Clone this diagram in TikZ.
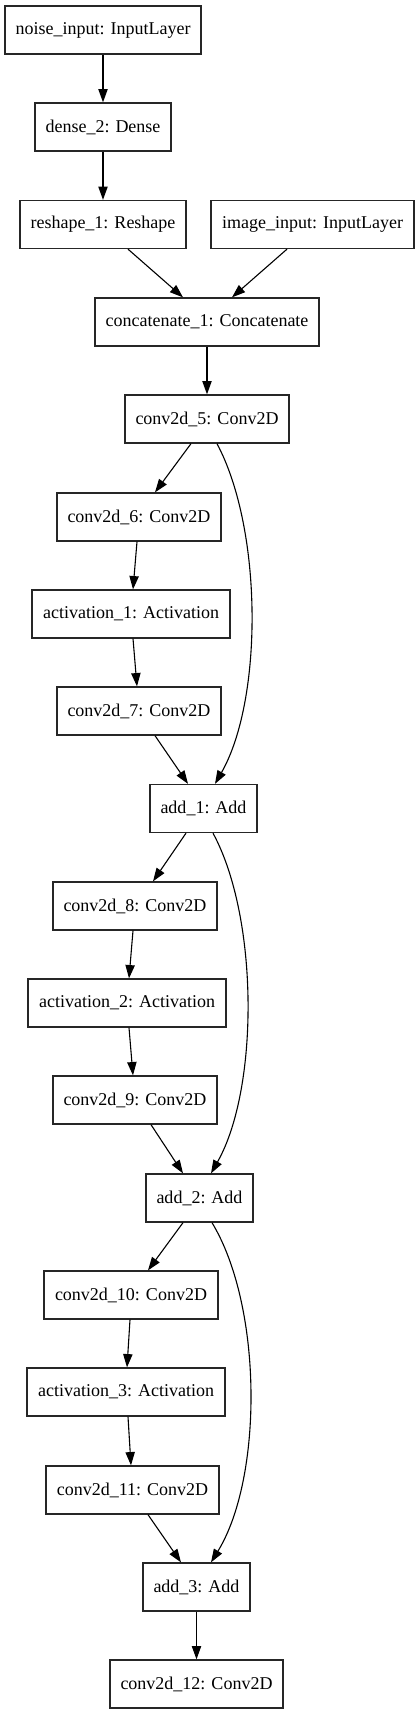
\documentclass[tikz,border=0pt]{standalone}
\usepackage{fontspec}
\setmainfont{Liberation Serif}
\usetikzlibrary{arrows.meta}
\begin{document}
\begin{tikzpicture}[x=1pt,y=-1pt,
  box/.style={draw=black!85,line width=1.3pt,rectangle,inner sep=0pt,minimum height=48pt,
    font=\fontsize{18}{21}\selectfont,anchor=center},
  arr/.style={draw=black,line width=1.1pt,-{Triangle[length=13.3pt,width=9.3pt]}}]
\useasboundingbox (0,0) rectangle (419,1715);
\node[box,minimum width=196pt] (noise) at (103,30) {noise\_input: InputLayer};
\node[box,minimum width=136pt] (dense) at (103,127) {dense\_2: Dense};
\node[box,minimum width=166pt] (reshape) at (103,224.5) {reshape\_1: Reshape};
\node[box,minimum width=203pt] (image) at (312.5,224.5) {image\_input: InputLayer};
\node[box,minimum width=224pt] (concat) at (207,322) {concatenate\_1: Concatenate};
\node[box,minimum width=164pt] (c5) at (207,419) {conv2d\_5: Conv2D};
\node[box,minimum width=164pt] (c6) at (139,517) {conv2d\_6: Conv2D};
\node[box,minimum width=198pt] (a1) at (131,614) {activation\_1: Activation};
\node[box,minimum width=164pt] (c7) at (139,711) {conv2d\_7: Conv2D};
\node[box,minimum width=107pt] (add1) at (203.5,808.5) {add\_1: Add};
\node[box,minimum width=164pt] (c8) at (135,906) {conv2d\_8: Conv2D};
\node[box,minimum width=198pt] (a2) at (127,1003) {activation\_2: Activation};
\node[box,minimum width=164pt] (c9) at (135,1100) {conv2d\_9: Conv2D};
\node[box,minimum width=107pt] (add2) at (199.5,1198) {add\_2: Add};
\node[box,minimum width=174pt] (c10) at (131,1295) {conv2d\_10: Conv2D};
\node[box,minimum width=198pt] (a3) at (126,1392) {activation\_3: Activation};
\node[box,minimum width=173pt] (c11) at (132.5,1490) {conv2d\_11: Conv2D};
\node[box,minimum width=107pt] (add3) at (196.5,1587) {add\_3: Add};
\node[box,minimum width=173pt] (c12) at (196.5,1684) {conv2d\_12: Conv2D};

\draw[arr] (noise.south) -- (dense.north);
\draw[arr] (dense.south) -- (reshape.north);
\draw[arr] ([xshift=25pt]reshape.south) -- ([xshift=-24pt]concat.north);
\draw[arr] ([xshift=-25.5pt]image.south) -- ([xshift=25pt]concat.north);
\draw[arr] (concat.south) -- (c5.north);
\draw[arr] ([xshift=-16pt]c5.south) -- ([xshift=16pt]c6.north);
\draw[arr] ([xshift=-2pt]c6.south) -- ([xshift=2pt]a1.north);
\draw[arr] ([xshift=2pt]a1.south) -- ([xshift=-2pt]c7.north);
\draw[arr] ([xshift=16pt]c7.south) -- ([xshift=-15.5pt]add1.north);
\draw[arr] ([xshift=10pt]c5.south) .. controls (263,530) and (263,700) .. ([xshift=11.5pt]add1.north);
\draw[arr] ([xshift=-17.5pt]add1.south) -- ([xshift=18pt]c8.north);
\draw[arr] ([xshift=-2pt]c8.south) -- ([xshift=2pt]a2.north);
\draw[arr] ([xshift=2pt]a2.south) -- ([xshift=-2pt]c9.north);
\draw[arr] ([xshift=16pt]c9.south) -- ([xshift=-16.5pt]add2.north);
\draw[arr] ([xshift=9.5pt]add1.south) .. controls (259,918) and (259,1089) .. ([xshift=11.5pt]add2.north);
\draw[arr] ([xshift=-16.5pt]add2.south) -- ([xshift=17pt]c10.north);
\draw[arr] ([xshift=-1pt]c10.south) -- ([xshift=1pt]a3.north);
\draw[arr] ([xshift=2pt]a3.south) -- ([xshift=-1.5pt]c11.north);
\draw[arr] ([xshift=15.5pt]c11.south) -- ([xshift=-15.5pt]add3.north);
\draw[arr] ([xshift=12.5pt]add2.south) .. controls (263,1307) and (263,1478) .. ([xshift=14.5pt]add3.north);
\draw[arr] (add3.south) -- (c12.north);
\end{tikzpicture}
\end{document}
